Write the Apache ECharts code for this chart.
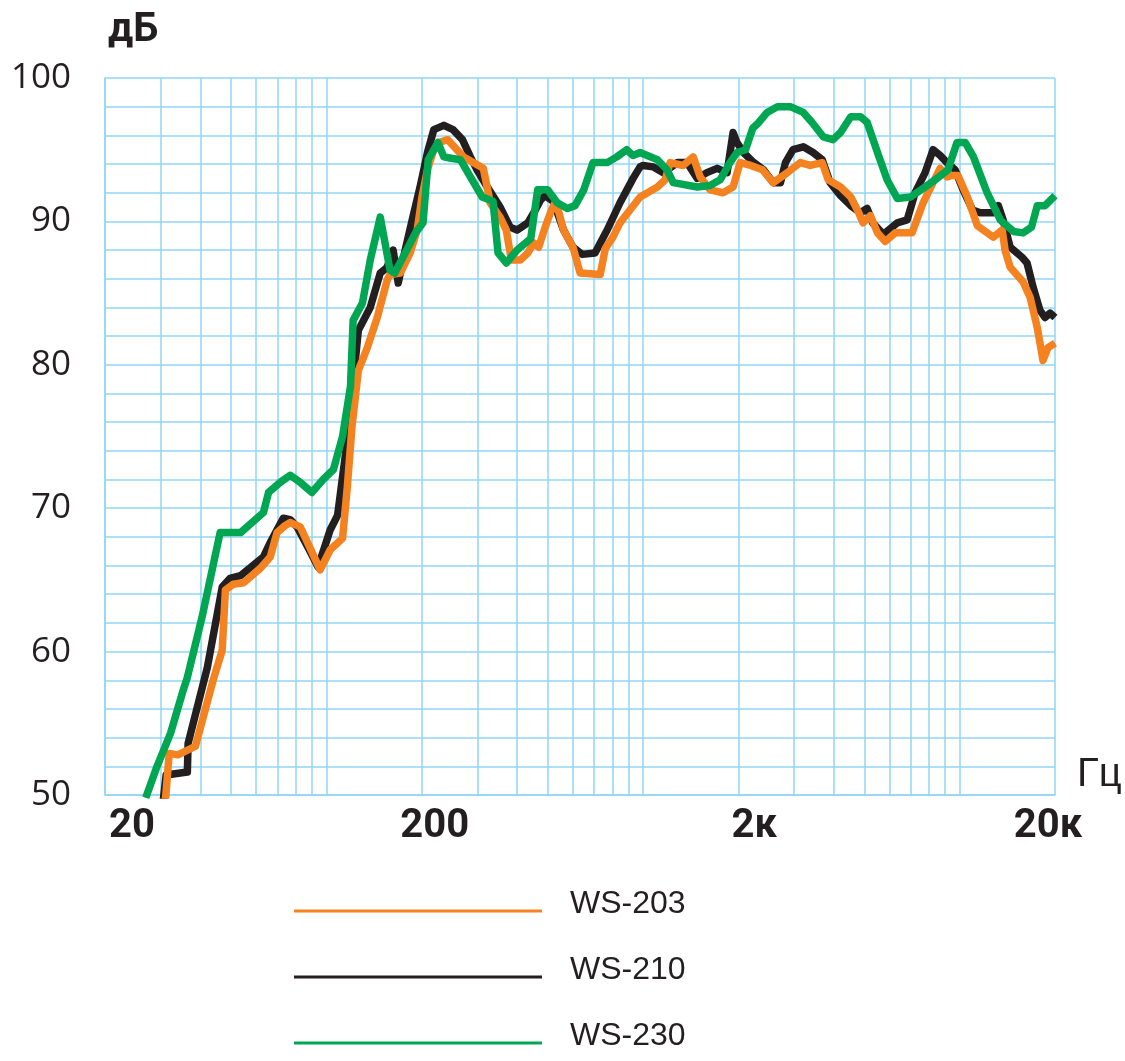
<!DOCTYPE html>
<html>
<head>
<meta charset="utf-8">
<script src="https://cdn.jsdelivr.net/npm/echarts@6.0.0/dist/echarts.min.js"></script>
<style>
  html, body { margin: 0; padding: 0; background: #ffffff; }
  #chart { width: 1125px; height: 1061px; }
</style>
</head>
<body>
<div id="chart"></div>
<script>
// ---- Data (frequency in Hz, level in dB) ----
const seriesNames = ['WS-203', 'WS-210', 'WS-230'];

const ws203Freq = [31, 31.9, 34, 38.6, 43.9, 46.9, 48, 50.8, 54.8, 61.8, 66.5, 69.9, 74.2, 76.9, 82.7, 88.5, 95.6, 102.9, 112.5, 116.5, 120.5, 126.2, 134.7, 144.8, 155.6, 158.9, 171.2, 184, 193.6, 200.4, 208.6, 216.8, 226.6, 241.8, 271, 291, 313, 324.7, 329, 353.6, 370, 384, 409.8, 432.6, 452, 468.4, 491, 513.9, 530.7, 561, 601, 633, 732.6, 760, 803.7, 846, 909.7, 979, 1111, 1175, 1218, 1339, 1440, 1516, 1628, 1789, 1925, 2026, 2189, 2385, 2578, 2857, 3137, 3373, 3680, 3844, 4205, 4530, 4800, 4950, 5223, 5502, 5820, 6259, 7071, 7668, 8241, 8673, 9117, 9462, 9876, 10576, 11376, 12774, 13623, 13906, 14435, 15848, 16691, 17580, 18331, 19000, 20000];
const ws203Db = [49.5, 52.9, 52.8, 53.4, 58.0, 60.1, 64.3, 64.7, 64.8, 65.8, 66.6, 68.3, 68.8, 69.0, 68.7, 67.3, 65.7, 67.1, 67.9, 71.5, 75.7, 79.6, 81.2, 83.3, 85.9, 86.3, 86.4, 87.8, 89.4, 91.7, 93.6, 94.8, 95.5, 95.7, 94.5, 94.1, 93.7, 92.0, 91.3, 90.3, 89.4, 87.3, 87.3, 87.8, 88.5, 88.2, 89.6, 90.8, 91.4, 89.4, 88.2, 86.4, 86.3, 88.1, 88.9, 89.9, 90.8, 91.7, 92.4, 92.9, 94.1, 93.9, 94.5, 93.1, 92.2, 92.0, 92.4, 94.1, 93.9, 93.6, 92.7, 93.4, 94.1, 93.9, 94.1, 92.9, 92.4, 91.7, 90.6, 89.9, 90.4, 89.2, 88.6, 89.2, 89.2, 91.3, 92.7, 93.7, 93.1, 93.2, 93.2, 91.7, 89.7, 88.9, 89.4, 88.0, 86.8, 85.8, 84.7, 82.6, 80.3, 81.2, 81.5];

const ws210Freq = [30.5, 31.2, 36.4, 36.6, 42.1, 46.9, 49.6, 53.6, 63.3, 66.5, 73.1, 76.9, 80.8, 88.3, 94.2, 102.9, 108.5, 115, 120.5, 126.2, 137.6, 148, 155.6, 162.5, 168.7, 177.4, 186.7, 197.7, 208.6, 218.5, 235, 251.2, 269, 285, 299, 322.4, 353.6, 380.6, 400, 432.6, 452, 474.9, 491.2, 521, 561, 601, 642.5, 705.4, 770.7, 846, 930.3, 978.6, 1000, 1079, 1159, 1284, 1378, 1484, 1591, 1715, 1843, 1925, 1980, 2075, 2238, 2401, 2578, 2717, 2817, 2976, 3208, 3444, 3680, 3899, 4205, 4530, 4857, 5104, 5314, 5741, 6354, 6825, 7234, 7777, 8241, 8673, 9117, 9669, 10256, 10976, 11616, 12774, 13245, 13717, 14435, 15739, 16320, 17062, 17926, 18607, 19300, 20000];
const ws210Db = [49.5, 51.4, 51.6, 53.6, 58.9, 64.5, 65.1, 65.3, 66.6, 67.6, 69.3, 69.2, 68.7, 67.1, 65.9, 68.5, 69.5, 73.8, 78.0, 82.4, 84.0, 86.4, 86.8, 88.0, 85.7, 88.0, 90.1, 92.4, 94.8, 96.4, 96.7, 96.4, 95.7, 94.5, 93.6, 92.4, 91.0, 89.6, 89.4, 89.9, 90.6, 91.5, 91.8, 91.4, 89.4, 88.2, 87.7, 87.8, 89.4, 91.3, 93.0, 93.8, 93.9, 93.8, 93.4, 94.1, 94.1, 93.0, 93.4, 93.7, 93.4, 96.2, 95.5, 94.8, 94.1, 93.6, 92.7, 92.7, 94.1, 95.0, 95.2, 94.8, 94.3, 92.7, 91.8, 91.1, 90.6, 90.9, 89.9, 89.1, 89.9, 90.1, 92.0, 93.4, 95.0, 94.6, 94.1, 93.6, 92.2, 90.8, 90.6, 90.6, 91.1, 90.1, 88.2, 87.5, 87.1, 85.4, 83.8, 83.3, 83.6, 83.3];

const ws230Freq = [26.9, 29.2, 32.2, 35.3, 36.4, 40.5, 46.2, 53.6, 63.3, 65.7, 71.5, 76.9, 82.7, 90, 97.7, 105.3, 112.5, 119.2, 121.5, 130, 137.6, 148, 158.9, 164.5, 177.4, 191.2, 202, 209.7, 225, 235, 247.8, 265, 285, 310.6, 336, 348.5, 370, 400, 442, 465, 500, 536, 577, 610, 650, 695, 770.7, 826.5, 888, 930, 978.6, 1111, 1191, 1246, 1484, 1628, 1752, 1882, 1980, 2107, 2221, 2321, 2466, 2657, 2918, 3208, 3420, 3708, 3982, 4205, 4530, 4857, 5104, 5502, 5900, 6354, 7000, 7668, 8488, 9186, 9807, 10416, 11056, 12208, 13434, 14790, 15848, 16864, 17580, 18607, 20000];
const ws230Db = [49.8, 52.0, 54.3, 57.3, 58.2, 62.4, 68.3, 68.3, 69.7, 71.1, 71.8, 72.3, 71.8, 71.1, 72.0, 72.7, 75.0, 78.5, 83.1, 84.3, 87.3, 90.3, 86.6, 86.4, 87.8, 89.2, 89.9, 94.3, 95.5, 94.5, 94.4, 94.3, 93.1, 91.7, 91.4, 87.8, 87.1, 88.0, 88.8, 92.2, 92.2, 91.3, 90.9, 91.1, 92.2, 94.1, 94.1, 94.5, 95.0, 94.6, 94.8, 94.3, 93.6, 92.7, 92.4, 92.5, 92.9, 94.1, 94.8, 95.0, 96.5, 96.9, 97.6, 98.0, 98.0, 97.6, 96.9, 95.9, 95.7, 96.2, 97.3, 97.3, 96.9, 94.8, 92.9, 91.6, 91.7, 92.3, 93.0, 93.6, 95.5, 95.5, 94.5, 92.0, 90.1, 89.3, 89.2, 89.6, 91.1, 91.1, 91.8];

// Axis ticks / grid
const xGridFreqs = [20, 30, 40, 50, 60, 70, 80, 90, 100, 200, 300, 400, 500, 600, 700, 800, 900, 1000, 2000, 3000, 4000, 5000, 6000, 7000, 8000, 9000, 10000, 20000];
const xLabelFreqs = [20, 200, 2000, 20000];
const xLabelTexts = ['20', '200', '2к', '20к'];
const yMin = 50, yMax = 100, yStep = 2, yLabelStep = 10;

const colors = { 'WS-203': '#f58220', 'WS-210': '#231f20', 'WS-230': '#00a651' };
const gridColor = '#8fd6f4';
const textColor = '#231f20';

function pairs(fs, ds) { return fs.map((f, i) => [f, ds[i]]); }

const labelRich = {
  l0: { padding: [0, 0, 0, 54] },
  l1: { padding: [0, 0, 0, 26] },
  l2: { padding: [0, 0, 0, 32] },
  l3: { padding: [0, 14, 0, 0] }
};

const chart = echarts.init(document.getElementById('chart'), null, { renderer: 'canvas' });

const mkSeries = (name, fs, ds, z) => ({
  name: name,
  type: 'line',
  data: pairs(fs, ds),
  showSymbol: false,
  symbol: 'none',
  smooth: false,
  clip: true,
  z: z,
  lineStyle: { color: colors[name], width: 7.5, join: 'round' },
  itemStyle: { color: colors[name] },
  emphasis: { disabled: true }
});

const legendFont = '"Liberation Sans Narrow", "Liberation Sans", sans-serif';

chart.setOption({
  animation: false,
  backgroundColor: '#ffffff',
  grid: { left: 105, right: 70, top: 78, bottom: 266, containLabel: false, outerBoundsMode: 'none' },
  xAxis: {
    type: 'log',
    logBase: 10,
    min: 20,
    max: 20000,
    name: 'Гц',
    nameLocation: 'end',
    nameGap: 22,
    nameMoveOverlap: false,
    nameTruncate: { maxWidth: 200 },
    nameTextStyle: {
      fontFamily: legendFont,
      fontSize: 40,
      lineHeight: 40,
      color: textColor,
      verticalAlign: 'bottom',
      padding: [0, 0, 0, 0]
    },
    axisLine: { show: true, lineStyle: { color: gridColor, width: 1.5 } },
    axisTick: { show: false, customValues: xGridFreqs },
    splitLine: { show: true, lineStyle: { color: gridColor, width: 1.5 } },
    axisLabel: {
      customValues: xLabelFreqs,
      margin: 12,
      fontFamily: 'Roboto, sans-serif',
      fontWeight: 'bold',
      fontSize: 40,
      color: textColor,
      formatter: function (v) {
        const i = xLabelFreqs.indexOf(Math.round(v));
        if (i < 0) return '';
        return '{l' + i + '|' + xLabelTexts[i] + '}';
      },
      rich: labelRich
    }
  },
  yAxis: {
    type: 'value',
    min: yMin,
    max: yMax,
    interval: yStep,
    name: 'дБ',
    nameLocation: 'end',
    nameGap: 27,
    nameTextStyle: {
      fontFamily: 'Roboto, sans-serif',
      fontWeight: 'bold',
      fontSize: 40,
      color: textColor,
      align: 'left',
      verticalAlign: 'bottom',
      padding: [0, 0, 0, 3]
    },
    axisLine: { show: true, lineStyle: { color: gridColor, width: 1.5 } },
    axisTick: { show: false },
    splitLine: { show: true, lineStyle: { color: gridColor, width: 1.5 } },
    axisLabel: {
      margin: 34,
      fontFamily: '"Open Sans", sans-serif',
      fontSize: 35,
      color: textColor,
      formatter: function (v) { return (v % yLabelStep === 0) ? String(v) : ''; }
    }
  },
  legend: {
    data: seriesNames,
    orient: 'vertical',
    left: 289,
    top: 883,
    height: 190,
    itemWidth: 248,
    itemHeight: 3,
    itemGap: 20,
    icon: 'rect',
    selectedMode: false,
    formatter: function (name) { return '{t|' + name + '}'; },
    textStyle: {
      fontFamily: legendFont,
      fontSize: 32,
      color: textColor,
      lineHeight: 38,
      padding: [0, 0, 0, 23],
      rich: {
        t: { fontFamily: legendFont, fontSize: 32, color: textColor, lineHeight: 38, padding: [0, 0, 14, 0] }
      }
    }
  },
  series: [
    mkSeries('WS-210', ws210Freq, ws210Db, 2),
    mkSeries('WS-203', ws203Freq, ws203Db, 3),
    mkSeries('WS-230', ws230Freq, ws230Db, 4)
  ]
});
</script>
</body>
</html>
